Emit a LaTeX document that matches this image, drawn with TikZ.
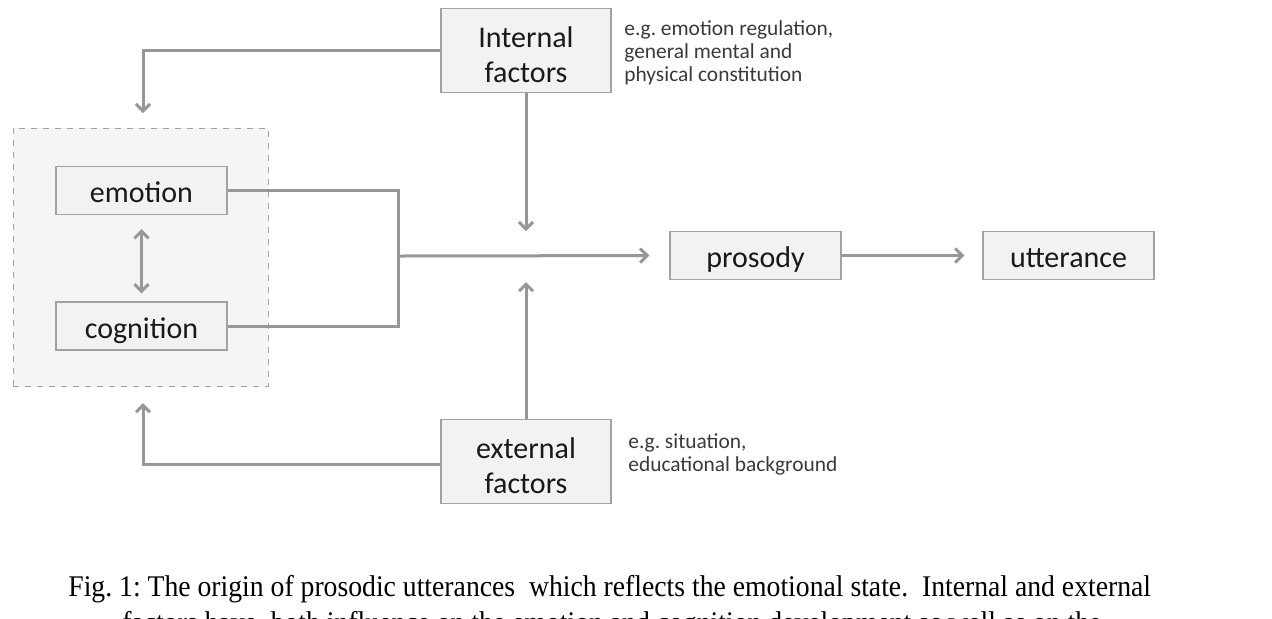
\documentclass[tikz,border=0pt]{standalone}
\usepackage{fontspec}
\setmainfont{Carlito}
\newfontfamily\capfont[FakeStretch=0.923]{Liberation Serif}
\usetikzlibrary{arrows.meta}
\definecolor{linegray}{HTML}{979797}
\definecolor{boxline}{HTML}{A2A2A2}
\definecolor{boxfill}{HTML}{F2F2F2}
\definecolor{grpfill}{HTML}{F5F5F5}
\definecolor{notetext}{HTML}{3A3A3A}
\newcommand{\firststrut}{\rule{0pt}{14.5pt}}
\newcommand{\notestrut}{\rule{0pt}{8pt}}
\frenchspacing
\begin{document}
\begin{tikzpicture}[x=0.5pt,y=-0.5pt,
  box/.style={draw=boxline, fill=boxfill, line width=0.7pt, inner sep=0pt,
    font=\fontsize{15}{17.5}\selectfont, align=center, text=black!90},
  smallbox/.style={box, minimum width=85.5pt, minimum height=24pt, text height=14pt, text depth=2pt},
  bigbox/.style={box, minimum width=85pt, minimum height=42pt},
  grp/.style={draw=boxline, fill=grpfill, dashed, line width=0.5pt, inner sep=0pt,
    minimum width=127.5pt, minimum height=129pt},
  conn/.style={draw=linegray, line width=1.5pt},
  arr/.style={conn, -{Straight Barb[length=3.5pt,width=7pt]}},
  note/.style={font=\fontsize{10.7}{11.5}\selectfont, text=notetext, align=left, inner sep=0pt},
  captext/.style={font=\capfont\fontsize{15}{18}\selectfont, inner sep=0pt, text=black}
]
\clip (0,0) rectangle (1272,618);
\fill[white] (0,0) rectangle (1272,618);

\node[grp] (group) at (140.5,257) {};
\node[smallbox] (emotion) at (141.5,190.5) {emotion};
\node[smallbox] (cognition) at (141.5,326) {cognition};
\node[bigbox] (internal) at (526,50.5) {\firststrut Internal\\factors};
\node[bigbox] (external) at (526,461.5) {\firststrut external\\factors};
\node[smallbox] (prosody) at (755.5,255.5) {prosody};
\node[smallbox] (utterance) at (1068.5,255.5) {utterance};

\node[note, anchor=north west] (note1) at (624,19) {\notestrut e.g. emotion regulation,\\general mental and\\physical constitution};
\node[note, anchor=north west] (note2) at (628,432) {\notestrut e.g. situation,\\educational background};

\coordinate (gtop) at (143,113);
\coordinate (gbot) at (143,403);
\coordinate (jn) at (398,256);
\coordinate (intip) at (526,231);
\coordinate (extip) at (526,282);

\draw[arr] (internal.west) -| (gtop);
\draw[arr] ([yshift=-1.5pt]external.west) -| (gbot);
\draw[arr] (internal.south) -- (intip);
\draw[arr] (external.north) -- (extip);
\draw[conn] (emotion.east) -| (jn) |- (cognition.east);
\draw[arr, shorten >=10pt] (jn) -- (prosody.west);
\draw[arr, shorten >=9pt] (prosody.east) -- (utterance.west);
\draw[arr, {Straight Barb[length=3.5pt,width=7pt]}-{Straight Barb[length=3.5pt,width=7pt]}, shorten <=7pt, shorten >=4pt] (emotion.south) -- (cognition.north);

\node[captext, anchor=base west] (cap1) at (68,596) {Fig. 1: The origin of prosodic utterances\ \ which reflects the emotional state.\ \ Internal and external};
\node[captext, anchor=base west] (cap2) at (122,632) {factors have\ \ both influence on the emotion and cognition development as well as on the};
\end{tikzpicture}
\end{document}
